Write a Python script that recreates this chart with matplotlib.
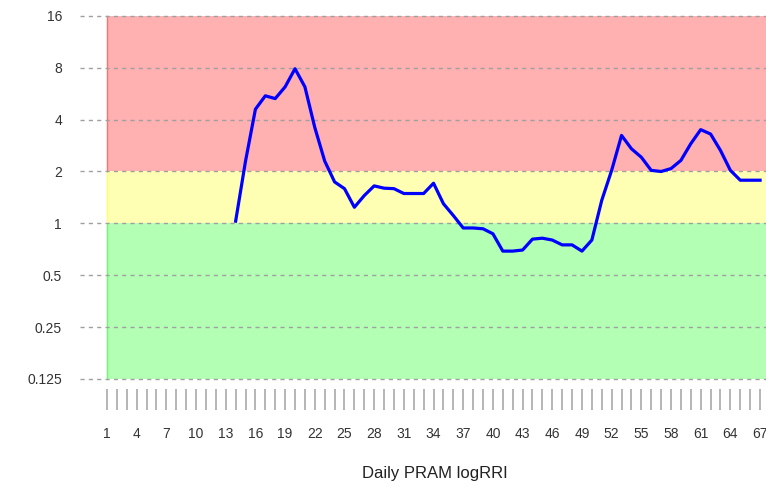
import numpy as np
import matplotlib
matplotlib.use("Agg")
import matplotlib.pyplot as plt

plt.rcParams['font.family'] = ['Liberation Sans', 'DejaVu Sans']

# daily values, days 1..67 (no data before day 14)
days = np.arange(1, 68)
rri = [np.nan] * 13 + [
    1.03, 2.3, 4.6, 5.5, 5.3, 6.2, 7.9, 6.2, 3.6, 2.3,   # 14-23
    1.74, 1.59, 1.24, 1.45, 1.65, 1.6, 1.59, 1.49, 1.49, 1.49,  # 24-33
    1.71, 1.30, 1.11, 0.94, 0.94, 0.93, 0.87, 0.69, 0.69, 0.70,  # 34-43
    0.81, 0.82, 0.80, 0.75, 0.75, 0.69, 0.80, 1.36, 2.03, 3.24,  # 44-53
    2.71, 2.42, 2.03, 2.0, 2.08, 2.32, 2.9, 3.5, 3.3, 2.65,      # 54-63
    2.03, 1.78, 1.78, 1.78]                                    # 64-67

bands = [(0.125, 1, '#b3ffb3', '#66ff66'),
         (1, 2, '#ffffb3', '#ffff66'),
         (2, 16, '#ffb0b0', '#ff7070')]
yticks = [0.125, 0.25, 0.5, 1, 2, 4, 8, 16]
ytick_labels = ['0.125', '0.25', '0.5', '1', '2', '4', '8', '16']

fig = plt.figure(figsize=(7.66, 4.86), dpi=100)
ax = fig.add_axes([80 / 766, 1 - 410 / 486, 1 - 80 / 766, (410 - 15) / 486])

ax.set_yscale('log', base=2)
ax.set_ylim(0.0825, 16.2)
ax.set_xlim(-1.73, 67.6)

for lo, hi, fc, ec in bands:
    ax.fill_between([1, 67.6], lo, hi, color=fc, lw=0, zorder=0)
    ax.plot([1, 1], [lo, hi], color=ec, lw=1, zorder=1)

for y in yticks:
    ax.axhline(y, color='#a0a0a0', lw=1, ls=(0, (3, 3)), zorder=2)

ax.plot(days, rri, color='#0000ff', lw=2.3, zorder=3, solid_joinstyle='round')

ax.set_yticks(yticks)
ax.set_yticklabels(ytick_labels)
ax.yaxis.set_minor_locator(plt.NullLocator())
ax.tick_params(axis='y', length=0, pad=13, labelsize=10, labelcolor='#333333')

ax.set_xticks(days)
ax.set_xticklabels([str(d) if (d - 1) % 3 == 0 else '' for d in days])
ax.tick_params(axis='x', direction='in', length=15, width=1.3, color='#b0b0b0',
               pad=12, labelsize=10, labelcolor='#333333')

for s in ax.spines.values():
    s.set_visible(False)

ax.set_xlabel('Daily PRAM logRRI', fontsize=12, color='#222222')
ax.xaxis.set_label_coords(0.5 + 12 / 686, -56 / 395)

fig.savefig('out.png', dpi=100)
